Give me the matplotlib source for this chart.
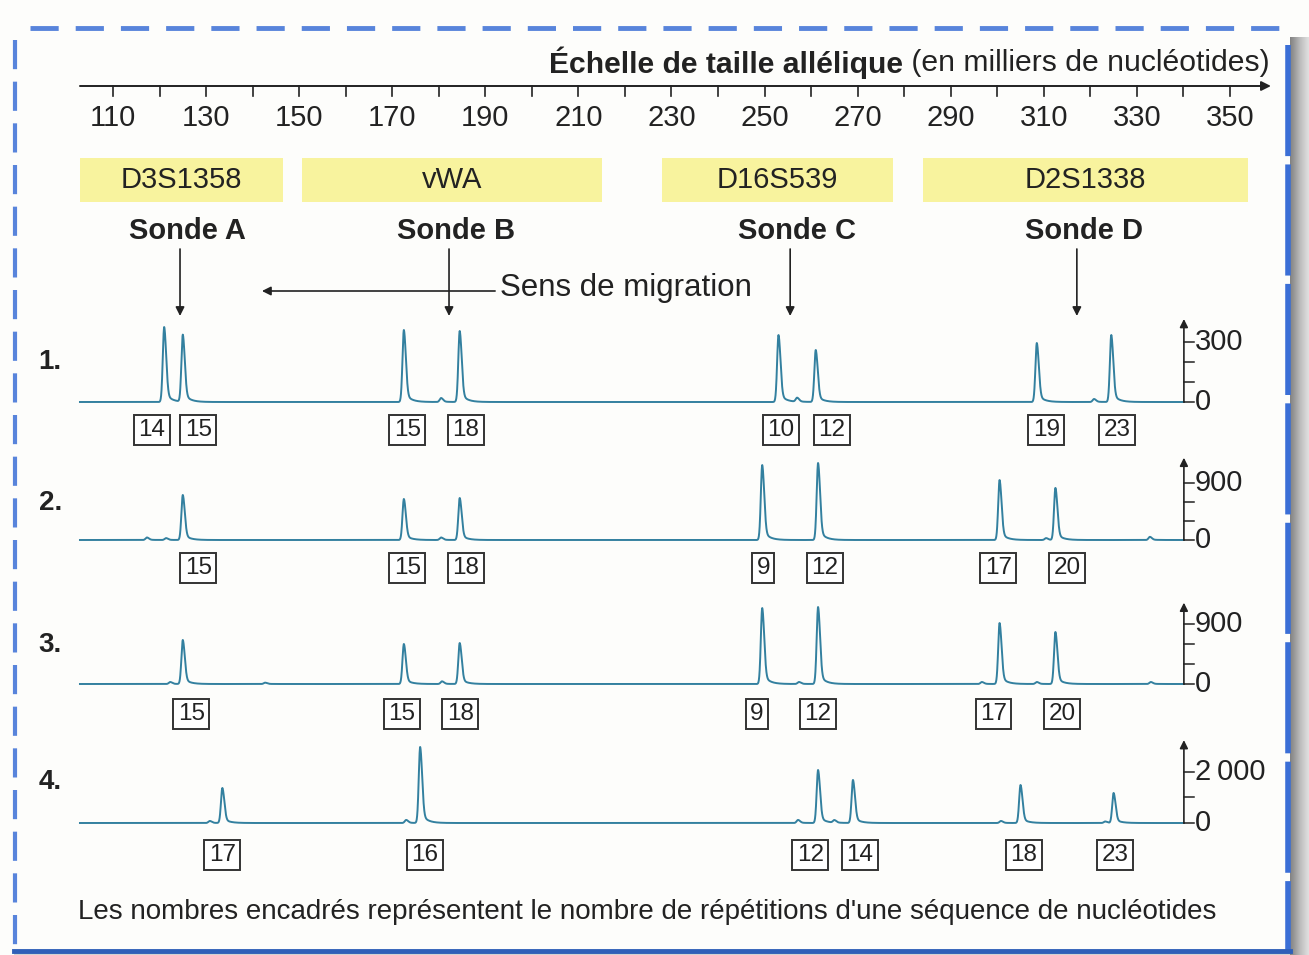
import numpy as np
import matplotlib.pyplot as plt
from matplotlib.patches import Rectangle

plt.rcParams['font.family'] = ['Liberation Sans', 'DejaVu Sans']

# echelle de taille allelique
scale_ticks = list(range(110, 360, 10))
scale_labels = list(range(110, 351, 20))

# locus
loci = ['D3S1358', 'vWA', 'D16S539', 'D2S1338']
loci_start = [103.0, 150.6, 228.0, 284.0]
loci_end = [146.5, 215.1, 277.6, 353.9]

# sondes
probes = ['Sonde A', 'Sonde B', 'Sonde C', 'Sonde D']
probe_pos = [124.4, 182.2, 255.5, 317.1]

# profils : taille des pics (pb), hauteur (RFU), nombre de repetitions
t1_size = [121, 125, 172.5, 184.5, 253, 261, 308.5, 324.5]
t1_height = [375, 335, 360, 355, 335, 260, 295, 335]
t1_repeats = [14, 15, 15, 18, 10, 12, 19, 23]

t2_size = [125, 172.5, 184.5, 249.5, 261.5, 300.5, 312.5]
t2_height = [711, 648, 664, 1185, 1217, 948, 822]
t2_repeats = [15, 15, 18, 9, 12, 17, 20]

t3_size = [125, 172.5, 184.5, 249.5, 261.5, 300.5, 312.5]
t3_height = [660, 600, 615, 1140, 1155, 915, 780]
t3_repeats = [15, 15, 18, 9, 12, 17, 20]

t4_size = [133.5, 176, 261.5, 269, 305, 325]
t4_height = [1372, 2979, 2078, 1686, 1490, 1176]
t4_repeats = [17, 16, 12, 14, 18, 23]

# petits pics parasites
t1_minor_size = [180.5, 257, 320.8]
t1_minor_height = [20, 20, 15]
t2_minor_size = [117.3, 121.4, 180.5, 310.5, 332.8]
t2_minor_height = [40, 30, 40, 30, 50]
t3_minor_size = [122.3, 142.7, 180.7, 257.4, 296.7, 308.5, 333]
t3_minor_height = [30, 20, 40, 30, 30, 30, 30]
t4_minor_size = [130.8, 173, 257.2, 265, 300.8, 323.2]
t4_minor_height = [80, 120, 120, 100, 80, 60]

# echelles verticales
y_major = [300, 900, 900, 2000]
y_major_labels = ['300', '900', '900', '2\u2009000']
y_minor = [[100, 200], [300, 600], [300, 600], [1000]]

traces = [
    (t1_size, t1_height, t1_repeats, t1_minor_size, t1_minor_height),
    (t2_size, t2_height, t2_repeats, t2_minor_size, t2_minor_height),
    (t3_size, t3_height, t3_repeats, t3_minor_size, t3_minor_height),
    (t4_size, t4_height, t4_repeats, t4_minor_size, t4_minor_height),
]

# mise en page (pixels / pb)
W, H = 1309, 955
X0, X1 = 85.72, 366.98
TRACE_START, YAX = 102.9, 340.1
base_px = [402, 540, 684, 823]
rfu_per_px = [5.0, 15.8, 15.0, 39.2]
arrow_top = [415, 1300, 1220, 3250]
box_drop = [28, 28, 30, 32]
label_off = [
    [-2.6, 3.3, 0.7, 1.3, 0.5, 3.5, 2.0, 1.2],
    [3.3, 0.7, 1.3, 0.2, 1.5, -0.3, 2.5],
    [1.8, -0.4, 0.1, -1.1, 0.0, -1.3, 1.4],
    [0.0, 1.0, -1.7, 1.5, 0.7, 0.3],
]
row_y = [362, 503, 645, 782]
INK = '#222222'
LINE = '#33809f'
BLUE = '#3b6fd6'


def peak(x, mu, h):
    d = x - mu
    left = np.exp(-0.5 * (d / 0.3) ** 2)
    right = 0.85 * np.exp(-0.5 * (d / 0.42) ** 2) + 0.15 * np.exp(-np.clip(d, 0, None) / 1.2)
    return h * np.where(d < 0, left, right)


fig = plt.figure(figsize=(W / 100, H / 100), dpi=100)
fig.patch.set_facecolor('#fdfdfb')

# cadre
axf = fig.add_axes([0, 0, 1, 1])
axf.set_xlim(0, W)
axf.set_ylim(H, 0)
axf.axis('off')
grad = np.linspace(0, 1, 50)[None, :]
axf.imshow(grad, cmap='Greys_r', vmin=-1.2, vmax=1.6, extent=(1290, W, H, 38), aspect='auto', zorder=1)
axf.imshow(grad.T, cmap='Greys_r', vmin=-1.2, vmax=1.6, extent=(14, 1290, H, 952), aspect='auto', zorder=1)
axf.plot([30, 1283], [28, 28], color=BLUE, lw=3.5, ls=(0, (5.8, 3.5)), alpha=0.85)
axf.plot([15, 15], [40, 945], color=BLUE, lw=3, ls=(0, (7, 3)), alpha=0.85)
axf.plot([1288, 1288], [45, 950], color=BLUE, lw=4, ls=(0, (20, 1.5)))
axf.plot([14, 1290], [951, 951], color='#2f5fb8', lw=3.5)

# en-tete
ax0 = fig.add_axes([0, 0, 1, 1])
ax0.set_xlim(X0, X1)
ax0.set_ylim(H, 0)
ax0.axis('off')

ax0.annotate('', xy=(358.8, 86), xytext=(TRACE_START, 86),
             arrowprops=dict(arrowstyle='-|>', color=INK, lw=1.4, mutation_scale=14, shrinkA=0, shrinkB=0))
for v in scale_ticks:
    ax0.plot([v, v], [86, 96], color=INK, lw=1.2)
for v in scale_labels:
    ax0.text(v, 118, str(v), ha='center', va='center', fontsize=21, color=INK)

reg = ax0.text(358.6, 63, ' (en milliers de nucléotides)', ha='right', va='center',
               fontsize=21.7, color=INK)
ax0.annotate('Échelle de taille allélique', xy=(0, 0.5), xycoords=reg, ha='right', va='center',
             fontsize=21.7, fontweight='bold', color=INK)

for name, a, b in zip(loci, loci_start, loci_end):
    ax0.add_patch(Rectangle((a, 158), b - a, 44, facecolor='#f8f39e', edgecolor='none'))
    ax0.text((a + b) / 2, 180, name, ha='center', va='center', fontsize=21, color=INK)

for name, x in zip(probes, probe_pos):
    ax0.text(x + 1.5, 231, name, ha='center', va='center', fontsize=21, fontweight='bold', color=INK)
    ax0.annotate('', xy=(x, 316), xytext=(x, 249),
                 arrowprops=dict(arrowstyle='-|>', color=INK, lw=1.2, mutation_scale=13, shrinkA=0, shrinkB=0))

ax0.annotate('', xy=(142, 291), xytext=(192.1, 291),
             arrowprops=dict(arrowstyle='-|>', color=INK, lw=1.2, mutation_scale=13, shrinkA=0, shrinkB=0))
ax0.text(193.2, 288, 'Sens de migration', ha='left', va='center', fontsize=22.5, color=INK)

for i, y in enumerate(row_y):
    ax0.text(94.0, y, f'{i + 1}.', ha='left', va='center', fontsize=20, fontweight='bold', color=INK)

ax0.text(102.5, 912, "Les nombres encadrés représentent le nombre de répétitions d'une séquence de nucléotides",
         ha='left', va='center', fontsize=20, color=INK)

# profils
x = np.linspace(TRACE_START, YAX, 8000)
for i, (size, height, rep, msize, mheight) in enumerate(traces):
    s = rfu_per_px[i]
    b = base_px[i]
    ax = fig.add_axes([0, 1 - (b + 50) / H, 1, 150 / H])
    ax.set_xlim(X0, X1)
    ax.set_ylim(-50 * s, 100 * s)
    ax.axis('off')
    ax.patch.set_alpha(0)

    y = np.zeros_like(x)
    for mu, h in zip(size, height):
        y += peak(x, mu, h)
    for mu, h in zip(msize, mheight):
        y += peak(x, mu, h)
    ax.plot(x, y, color=LINE, lw=1.4)

    for mu, n, off in zip(size, rep, label_off[i]):
        ax.annotate(str(n), xy=(mu + off, 0), xytext=(0, -box_drop[i]), textcoords='offset pixels',
                    ha='center', va='center', fontsize=17.5, color=INK,
                    bbox=dict(boxstyle='square,pad=0.18', fc='white', ec='#333333', lw=1.4))

    # axe vertical
    ax.annotate('', xy=(YAX, arrow_top[i]), xytext=(YAX, 0),
                arrowprops=dict(arrowstyle='-|>', color=INK, lw=1.2, mutation_scale=12, shrinkA=0, shrinkB=0))
    for v in [0, y_major[i]] + y_minor[i]:
        ax.plot([YAX, YAX + 2.1], [v, v], color=INK, lw=1.1)
    ax.text(YAX + 2.4, 0, '0', ha='left', va='center', fontsize=21, color=INK)
    ax.text(YAX + 2.4, y_major[i], y_major_labels[i], ha='left', va='center', fontsize=21, color=INK)

fig.savefig('out.png', dpi=100, facecolor=fig.get_facecolor())
